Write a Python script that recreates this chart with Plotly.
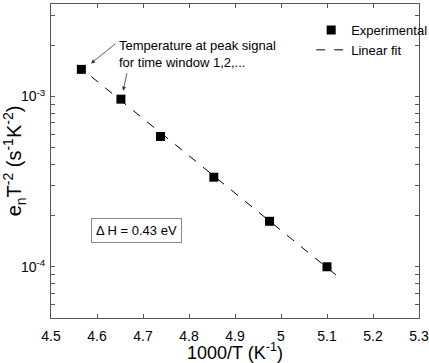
import plotly.graph_objects as go
import numpy as np

# Data
inv_T = [4.566, 4.652, 4.738, 4.854, 4.975, 5.100]
en_T2 = [1.445e-3, 9.66e-4, 5.83e-4, 3.36e-4, 1.85e-4, 1.00e-4]
fit_x = [4.557, 5.120]
fit_y = [1.53e-3, 8.93e-5]

x_ticks = [4.5, 4.6, 4.7, 4.8, 4.9, 5.0, 5.1, 5.2, 5.3]
x_ticktext = ["4.5", "4.6", "4.7", "4.8", "4.9", "5", "5.1", "5.2", "5.3"]
y_ticks = [1e-4, 1e-3]
y_ticktext = ["10<sup>-4</sup>", "10<sup>-3</sup>"]
y_minor = [6e-5, 7e-5, 8e-5, 9e-5, 2e-4, 3e-4, 4e-4, 5e-4, 6e-4, 7e-4, 8e-4, 9e-4, 2e-3, 3e-3]

FONT = "Liberation Sans, Arial, sans-serif"
AX = "#555555"

fig = go.Figure()
fig.add_trace(go.Scatter(x=inv_T, y=en_T2, mode="markers", name="Experimental",
                         marker=dict(symbol="square", size=9, color="black")))
fig.add_trace(go.Scatter(x=fit_x, y=fit_y, mode="lines", name="Linear fit",
                         line=dict(color="black", width=1, dash="dash")))

axis_common = dict(showline=True, linecolor=AX, linewidth=1, mirror="ticks",
                   ticks="inside", ticklen=4, tickcolor=AX, showgrid=False, zeroline=False,
                   automargin=False, ticklabeloverflow="allow",
                   tickfont=dict(family=FONT, size=14, color="black"))

fig.update_xaxes(range=[4.5, 5.3], tickvals=x_ticks, ticktext=x_ticktext, ticklabelstandoff=5,
                 title=dict(text="1000/T (K<sup>-1</sup>)", font=dict(family=FONT, size=18, color="black"),
                            standoff=4),
                 **axis_common)
fig.update_yaxes(type="log", range=[np.log10(5e-5), np.log10(3.5e-3)],
                 tickvals=y_ticks, ticktext=y_ticktext, ticklabelstandoff=2,
                 minor=dict(tickvals=y_minor, ticks="inside", ticklen=4, tickcolor=AX),
                 title=dict(text="e<sub>n</sub>T<sup>-2</sup> (s<sup>-1</sup>K<sup>-2</sup>)",
                            font=dict(family=FONT, size=20, color="black"), standoff=4),
                 **axis_common)

fig.add_annotation(x=4.644, y=np.log10(1.778e-3), text="Temperature at peak signal<br>for time window 1,2,...",
                   showarrow=False, xanchor="left", yanchor="middle", align="left",
                   font=dict(family=FONT, size=13, color="black"))
fig.add_annotation(x=4.587, y=np.log10(1.566e-3), text="", showarrow=True, ax=26, ay=-21,
                   arrowhead=2, arrowsize=1, arrowwidth=0.8, arrowcolor="#333")
fig.add_annotation(x=4.657, y=np.log10(1.084e-3), text="", showarrow=True, ax=4, ay=-19,
                   arrowhead=2, arrowsize=1, arrowwidth=0.8, arrowcolor="#333")
fig.add_annotation(x=4.685, y=np.log10(1.64e-4), text="\u0394 H = 0.43 eV", showarrow=False,
                   bordercolor="#888", borderwidth=1, borderpad=4, bgcolor="white",
                   font=dict(family=FONT, size=13, color="black"))

fig.update_layout(width=429, height=363, margin=dict(l=51, r=10, t=4, b=45, autoexpand=False),
                  plot_bgcolor="white", paper_bgcolor="white",
                  legend=dict(x=0.707, y=0.965, xanchor="left", yanchor="top", bgcolor="rgba(0,0,0,0)",
                              font=dict(family=FONT, size=13, color="black"), itemwidth=30,
                              tracegroupgap=0))
fig.write_html("out.html")
